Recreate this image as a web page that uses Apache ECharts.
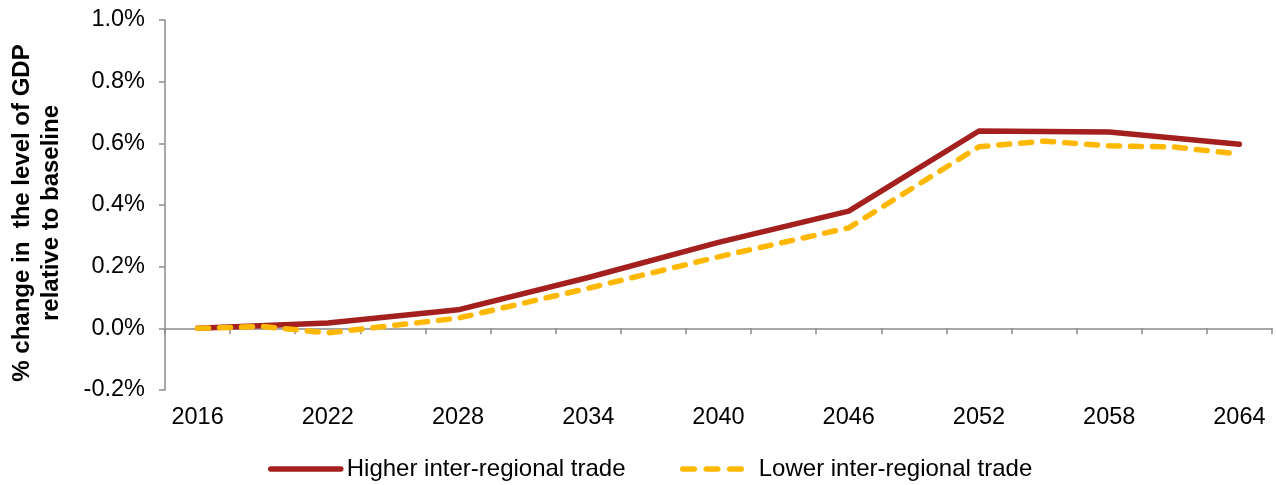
<!DOCTYPE html>
<html>
<head>
<meta charset="utf-8">
<script src="https://cdn.jsdelivr.net/npm/echarts@6/dist/echarts.min.js"></script>
<style>
html,body{margin:0;padding:0;background:#fff;}
#chart{width:1276px;height:485px;}
</style>
</head>
<body>
<div id="chart"></div>
<script>
// Data (values in percent)
const years = ['2016','2019','2022','2025','2028','2031','2034','2037','2040','2043','2046','2049','2052','2055','2058','2061','2064'];
const higherTrade = [0, null, 0.017, null, 0.06, null, 0.165, null, 0.279, null, 0.38, null, 0.64, null, 0.637, null, 0.597];
const lowerTrade = [0, 0.006, -0.015, null, 0.033, null, 0.13, null, 0.232, null, 0.326, null, 0.589, 0.607, 0.592, 0.588, 0.565];
const seriesNames = ['Higher inter-regional trade', 'Lower inter-regional trade'];
const yTitleLines = ['% change in  the level of GDP', 'relative to baseline'];

const FONT = 'Liberation Sans, Arial, sans-serif';
const RED = '#A3201F';
const GOLD = '#FFB800';
const AXIS = '#8C8C8C';

const chart = echarts.init(document.getElementById('chart'), null, {renderer: 'canvas'});
chart.setOption({
  animation: false,
  backgroundColor: '#fff',
  grid: {left: 165, right: 4, top: 20, bottom: 95, containLabel: false, outerBoundsMode: 'none'},
  legend: [
    {
      data: [seriesNames[0]], left: 268, top: 457, padding: 0,
      itemWidth: 70, itemHeight: 14, itemGap: 0,
      itemStyle: {opacity: 0},
      lineStyle: {width: 5.5, cap: 'round'},
      textStyle: {fontFamily: FONT, fontSize: 24, color: '#000', padding: [0, 0, 0, 1]}
    },
    {
      data: [seriesNames[1]], left: 680, top: 457, padding: 0,
      itemWidth: 60, itemHeight: 14, itemGap: 0,
      itemStyle: {opacity: 0},
      lineStyle: {width: 5.5, cap: 'round', type: [11.5, 12]},
      textStyle: {fontFamily: FONT, fontSize: 24, color: '#000', padding: [0, 0, 0, 11]}
    }
  ],
  xAxis: [
    {
      type: 'category',
      data: years,
      boundaryGap: true,
      axisLine: {onZero: true, lineStyle: {color: AXIS, width: 1.5}},
      axisTick: {show: true, interval: 0, length: 6, lineStyle: {color: AXIS, width: 1.5}},
      axisLabel: {show: false},
      splitLine: {show: false}
    },
    {
      type: 'category',
      data: years,
      boundaryGap: true,
      position: 'bottom',
      axisLine: {show: false, onZero: false},
      axisTick: {show: false},
      axisLabel: {interval: 1, margin: 16, fontFamily: FONT, fontSize: 23.5, color: '#000'},
      splitLine: {show: false}
    }
  ],
  yAxis: {
    type: 'value',
    min: -0.2, max: 1.0, interval: 0.2,
    axisLine: {show: true, lineStyle: {color: AXIS, width: 1.5}},
    axisTick: {show: true, length: 6, lineStyle: {color: AXIS, width: 1.5}},
    axisLabel: {margin: 20, fontFamily: FONT, fontSize: 23.5, color: '#000',
      formatter: v => v.toFixed(1) + '%'},
    splitLine: {show: false}
  },
  graphic: [{
    type: 'text',
    x: 37, y: 213,
    rotation: Math.PI / 2,
    style: {
      text: yTitleLines.join('\n'),
      font: 'bold 24px ' + FONT,
      fill: '#000',
      align: 'center',
      verticalAlign: 'middle',
      lineHeight: 29
    }
  }],
  series: [
    {
      name: seriesNames[0], type: 'line', data: higherTrade, connectNulls: true,
      symbol: 'none', color: RED,
      lineStyle: {color: RED, width: 5.5, cap: 'round', join: 'round'},
      itemStyle: {color: RED}
    },
    {
      name: seriesNames[1], type: 'line', data: lowerTrade, connectNulls: true,
      symbol: 'none', color: GOLD,
      lineStyle: {color: GOLD, width: 5.5, type: [11, 11], cap: 'round', join: 'round'},
      itemStyle: {color: GOLD}
    }
  ]
});
</script>
</body>
</html>
